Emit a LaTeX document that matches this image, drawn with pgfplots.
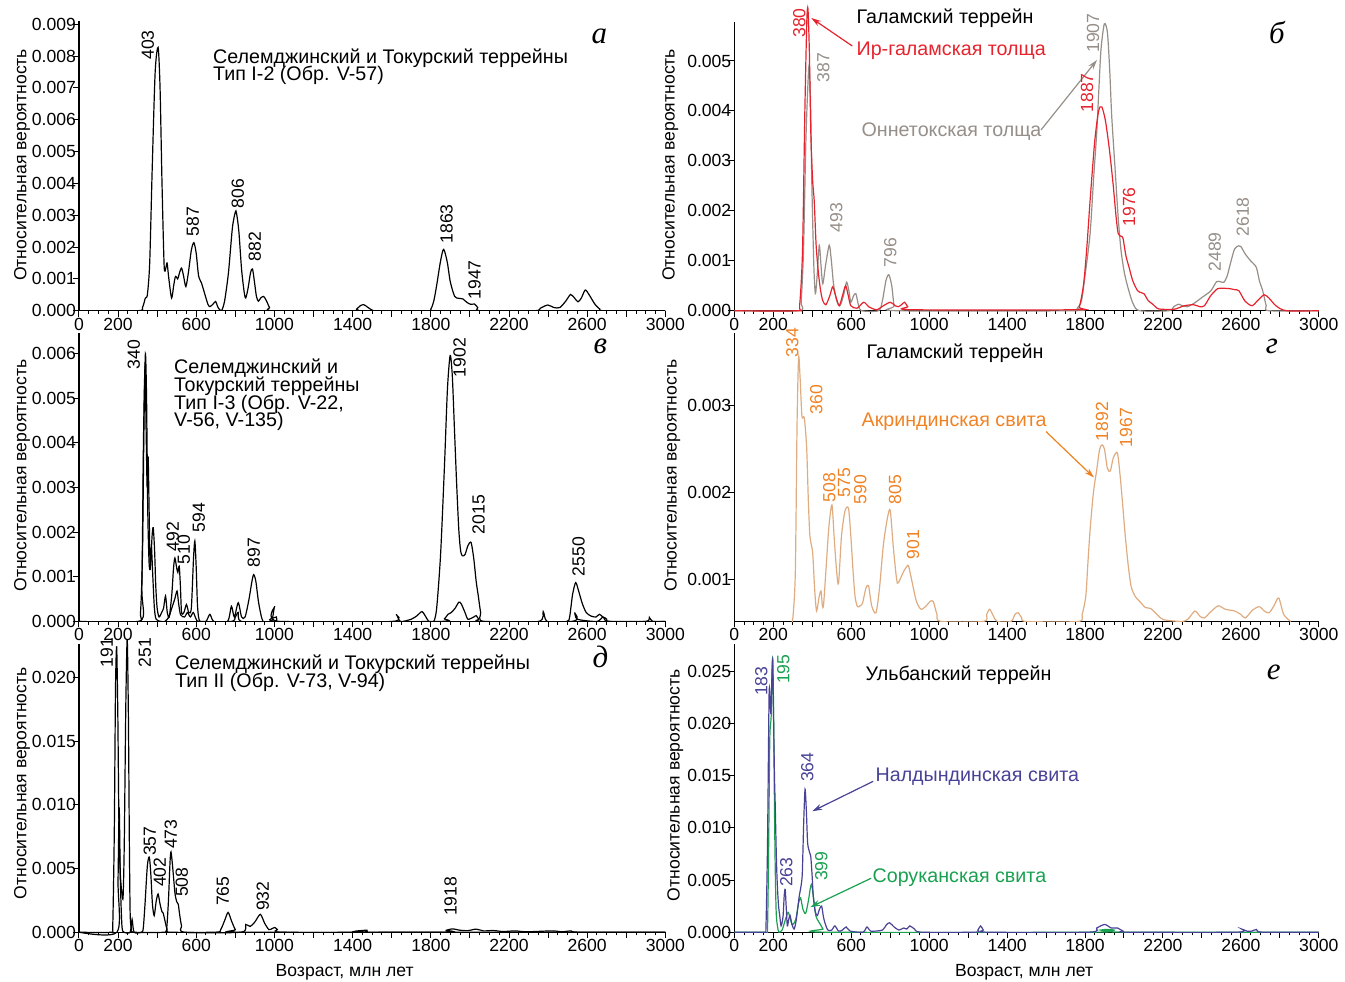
\documentclass[border=0pt]{standalone}
\usepackage{fontspec}
\setmainfont{Liberation Sans}
\newfontfamily\letfont{Liberation Serif}
\usepackage{pgfplots}
\pgfplotsset{compat=1.18}
\usetikzlibrary{arrows.meta}

\definecolor{irred}{RGB}{230,35,45}
\definecolor{onngray}{RGB}{150,142,136}
\definecolor{akrtext}{RGB}{240,130,35}
\definecolor{akrline}{RGB}{222,172,128}
\definecolor{naldblue}{RGB}{72,66,150}
\definecolor{sorgreen}{RGB}{25,160,80}

\newcommand\tk{\fontsize{8.8}{10}\selectfont}
\newcommand\ttl{\fontsize{9.85}{11}\selectfont}
\newcommand\lt{\fontsize{15.5}{17}\selectfont\letfont\itshape}

\pgfplotsset{
  panel/.style={
    scale only axis, width=293.5pt, height=145pt, anchor=south west,
    xmin=0, xmax=3000, ymin=0,
    axis x line=bottom, axis y line=left,
    axis line style={-, line width=0.6pt},
    xtick={0,200,...,3000},
    xticklabels={0,200,,600,,1000,,1400,,1800,,2200,,2600,,3000},
    minor x tick num=3,
    tick align=outside,
    major tick length=3pt, minor tick length=1.6pt,
    tick style={black, line width=0.5pt},
    ticklabel style={font=\tk},
    xticklabel style={yshift=3pt},
    scaled y ticks=false,
    yticklabel style={xshift=5pt, /pgf/number format/fixed, /pgf/number format/fixed zerofill,
      /pgf/number format/precision=3, /pgf/number format/assume math mode=true},
    every axis plot/.append style={line width=0.6pt, smooth, tension=0.45, mark=none},
  },
}
\tikzset{
  pk/.style={rotate=90, anchor=west, inner sep=0pt, font=\tk},
  tt/.style={anchor=base west, inner sep=0pt, font=\ttl},
  arr/.style={-{Stealth[length=5pt,width=3pt]}, line width=0.6pt},
}

\begin{document}
\begin{tikzpicture}
\begin{scope}[x=0.5pt, y=-0.5pt]
\useasboundingbox (0,0) rectangle (1345,982);
\end{scope}

% a
\begin{axis}[panel, at={(39.5pt,-155.5pt)}, ymax=0.0091,
  ytick={0,0.001,0.002,0.003,0.004,0.005,0.006,0.007,0.008,0.009}]
\addplot[black] coordinates {(0,0) (300,0) (325,0.0001) (340,0.0004) (350,0.0005) (362,0.0015) (375,0.0045) (390,0.0075) (405,0.00827) (415,0.0070) (425,0.0040) (436,0.0014) (445,0.00135) (451,0.0015) (460,0.0010) (474,0.0004) (485,0.0008) (494,0.00108) (505,0.0010) (515,0.0012) (525,0.00134) (535,0.0011) (547,0.00076) (560,0.0012) (575,0.0019) (588,0.00214) (600,0.0018) (612,0.0011) (627,0.00087) (645,0.0005) (660,0.0002) (670,0.00013) (685,0.0002) (699,0.00029) (712,0.0001) (729,0) (745,0.0003) (765,0.0012) (785,0.0026) (800,0.0031) (806,0.00307) (818,0.0025) (832,0.0013) (845,0.0006) (853,0.0004) (865,0.0007) (878,0.0012) (888,0.00131) (898,0.0009) (908,0.00045) (918,0.0003) (930,0.0004) (945,0.00045) (960,0.0003) (975,0.0001) (990,0) (1400,0) (1420,0.00005) (1440,0.00016) (1457,0.00019) (1475,0.00012) (1500,0.00002) (1530,0) (1780,0) (1800,0.00005) (1815,0.0003) (1830,0.0008) (1848,0.0015) (1862,0.0019) (1870,0.00188) (1885,0.0015) (1900,0.0009) (1922,0.00045) (1943,0.00039) (1964,0.00037) (1985,0.00026) (2005,0.0002) (2024,0.00021) (2040,0.0001) (2055,0) (2330,0) (2360,0.00008) (2398,0.00018) (2430,0.0001) (2460,0.0001) (2490,0.0003) (2515,0.00051) (2535,0.0004) (2553,0.00028) (2570,0.0004) (2590,0.00065) (2610,0.0005) (2640,0.0002) (2665,0.00005) (2690,0) (3000,0)};
\end{axis}

% b
\begin{axis}[panel, at={(367.5pt,-155.5pt)}, width=292.5pt, height=144.5pt, ymax=0.00578, clip=false,
  ytick={0,0.001,0.002,0.003,0.004,0.005}]
\addplot[onngray] coordinates {(0,0) (330,0) (343,0.0002) (355,0.0012) (368,0.0035) (383,0.0049) (392,0.0040) (398,0.0025) (408,0.0009) (416,0.00034) (425,0.0007) (436,0.00131) (445,0.0009) (454,0.00054) (468,0.0009) (487,0.00131) (498,0.001) (509,0.00054) (525,0.0002) (542,0.0001) (560,0.0003) (576,0.00057) (588,0.0004) (598,0.00017) (612,0.0003) (624,0.00034) (638,0.0001) (653,0) (740,0) (760,0.0002) (778,0.0006) (793,0.00072) (808,0.0005) (820,0.0001) (835,0) (1740,0) (1760,0.00005) (1782,0.0002) (1800,0.0007) (1826,0.00154) (1845,0.0027) (1860,0.00356) (1872,0.0045) (1882,0.00523) (1899,0.00574) (1915,0.00557) (1927,0.0048) (1937,0.0039) (1955,0.0028) (1970,0.00188) (1985,0.0012) (2003,0.00074) (2025,0.0004) (2048,0.00013) (2081,0) (2230,0) (2255,0.00008) (2280,0.00013) (2300,0.0001) (2325,0.00008) (2360,0.00015) (2402,0.00027) (2446,0.0004) (2475,0.00058) (2495,0.00058) (2513,0.00057) (2530,0.0007) (2546,0.00094) (2568,0.00124) (2590,0.0013) (2601,0.00128) (2620,0.00115) (2635,0.00107) (2650,0.001) (2679,0.00087) (2695,0.0006) (2712,0.0004) (2730,0.0001) (2745,0) (3000,0)};
\addplot[irred] coordinates {(0,0) (320,0) (335,0.0001) (350,0.0012) (362,0.0040) (372,0.0058) (378,0.00604) (385,0.0052) (393,0.0035) (402,0.0026) (410,0.0022) (420,0.0013) (432,0.00074) (443,0.0004) (454,0.0002) (470,0.00012) (490,0.0003) (505,0.00048) (520,0.0003) (538,0.0001) (555,0.0003) (571,0.0005) (585,0.0003) (598,0.0001) (630,0.00005) (664,0.00017) (690,0.00008) (730,0.00002) (765,0.0001) (801,0.00017) (825,0.0001) (841,0.00008) (858,0.00012) (874,0.00017) (890,0.00008) (910,0.00002) (1750,0.00002) (1771,0.00008) (1793,0.00054) (1810,0.0013) (1826,0.0022) (1850,0.0034) (1870,0.0040) (1886,0.00408) (1905,0.0038) (1926,0.0032) (1945,0.0025) (1959,0.0019) (1970,0.00155) (1985,0.00149) (1995,0.00145) (2010,0.0011) (2026,0.00087) (2045,0.0006) (2070,0.0004) (2090,0.00036) (2103,0.00034) (2125,0.0002) (2148,0.00013) (2170,0.00005) (2192,0.00003) (2258,0.00003) (2310,0.0001) (2358,0.00012) (2390,0.00008) (2413,0.0001) (2445,0.0003) (2480,0.00044) (2510,0.00045) (2546,0.00044) (2570,0.00042) (2590,0.0004) (2620,0.0002) (2657,0.0001) (2690,0.00022) (2720,0.00032) (2745,0.00025) (2780,0.0001) (2834,0) (3000,0)};
\end{axis}

% v
\begin{axis}[panel, at={(39.5pt,-311pt)}, height=144.5pt, ymax=0.00647,
  ytick={0,0.001,0.002,0.003,0.004,0.005,0.006}]
\addplot[black] coordinates {(0,0) (300,0) (315,0.0002) (325,0.0015) (333,0.0045) (340,0.0060) (346,0.0050) (352,0.0025) (359,0.0013) (366,0.0012) (374,0.0019) (380,0.0021) (387,0.0016) (393,0.0008) (400,0.0003) (410,0.0001) (423,0.0002) (433,0.0003) (443,0.00057) (452,0.0002) (462,0.0001) (475,0.0006) (484,0.0012) (491,0.00142) (500,0.0012) (506,0.0011) (513,0.00124) (519,0.0008) (525,0.0002) (537,0.0002) (550,0.00038) (562,0.0002) (575,0.0003) (586,0.0014) (593,0.0018) (600,0.0012) (606,0.0004) (612,0.0001) (620,0) (650,0) (670,0.00016) (690,0) (760,0) (780,0.00034) (795,0.0001) (815,0.00042) (832,0.0001) (850,0.0001) (870,0.0005) (885,0.0009) (894,0.00105) (905,0.0009) (920,0.0004) (942,0) (985,0) (1002,0.00034) (1020,0) (1600,0) (1622,0.00016) (1645,0) (1700,0.00005) (1730,0.00013) (1755,0.00022) (1775,0.0001) (1790,0) (1815,0) (1830,0.0003) (1850,0.0015) (1870,0.0035) (1885,0.0052) (1899,0.00596) (1910,0.0055) (1921,0.0043) (1932,0.0031) (1943,0.00207) (1952,0.0016) (1961,0.00147) (1975,0.0015) (1990,0.0017) (2006,0.00177) (2020,0.0014) (2032,0.0009) (2043,0.00057) (2055,0.0002) (2070,0) (2350,0) (2375,0.00022) (2395,0) (2495,0) (2510,0.0001) (2525,0.0006) (2541,0.00087) (2555,0.0007) (2575,0.0004) (2595,0.0002) (2620,0.00012) (2645,0.0001) (2663,0.00016) (2685,0.00008) (2710,0) (2900,0) (2918,0.00009) (2935,0) (3000,0)};
\addplot[black] coordinates {(0,0) (310,0) (322,0.0008) (330,0.0040) (338,0.0057) (344,0.0042) (349,0.0030) (354,0.0037) (359,0.0025) (364,0.0013) (371,0.00165) (378,0.0010) (386,0.0003) (395,0.00005) (420,0) (440,0) (460,0.0001) (475,0.0003) (490,0.0005) (502,0.00068) (510,0.0004) (520,0.00015) (540,0.0001) (555,0.0002) (570,0.0001) (585,0.0002) (600,0.00005) (620,0) (780,0) (800,0.0001) (815,0.0002) (830,0) (1000,0) (1010,0.0001) (1025,0) (1840,0) (1870,0.00006) (1888,0.00016) (1905,0.0002) (1925,0.0003) (1943,0.00043) (1955,0.0004) (1975,0.0002) (1990,0.00005) (2020,0.0001) (2032,0.00013) (2045,0.00005) (2060,0) (2520,0) (2535,0.0002) (2550,0.00005) (2650,0) (2680,0.0001) (2700,0.00005) (2720,0) (3000,0)};
\end{axis}

% g
\begin{axis}[panel, at={(367.5pt,-311pt)}, width=292.5pt, height=144.5pt, ymin=0.00052, ymax=0.00384,
  ytick={0.001,0.002,0.003}]
\addplot[akrline] coordinates {(290,0.0005) (300,0.00055) (313,0.00108) (322,0.0028) (330,0.00356) (338,0.0033) (347,0.00288) (359,0.00286) (371,0.00253) (380,0.0019) (388,0.0015) (402,0.00131) (412,0.0009) (422,0.00064) (435,0.0008) (445,0.00087) (452,0.0007) (458,0.00071) (470,0.0011) (485,0.0016) (501,0.00186) (512,0.0015) (525,0.0011) (535,0.00096) (550,0.0015) (568,0.00179) (586,0.00182) (598,0.0015) (610,0.00108) (620,0.0008) (632,0.00069) (645,0.0007) (658,0.00073) (675,0.0009) (689,0.00093) (705,0.0007) (727,0.00062) (745,0.0009) (765,0.0014) (785,0.0017) (800,0.0018) (815,0.0014) (828,0.0011) (837,0.00096) (850,0.0010) (870,0.0011) (885,0.00115) (894,0.00116) (910,0.001) (932,0.00077) (950,0.00068) (963,0.00066) (985,0.0007) (1005,0.00075) (1021,0.00075) (1040,0.0006) (1060,0.00052) (1280,0.00052) (1295,0.0006) (1311,0.00066) (1330,0.00058) (1350,0.00052) (1420,0.00052) (1440,0.0006) (1457,0.00062) (1475,0.00056) (1500,0.00052) (1765,0.00052) (1785,0.0006) (1804,0.00081) (1815,0.0012) (1826,0.00157) (1843,0.0020) (1860,0.00226) (1875,0.0025) (1888,0.00255) (1900,0.0025) (1915,0.00228) (1930,0.00225) (1945,0.0024) (1966,0.00246) (1980,0.0022) (1992,0.0019) (2004,0.00157) (2020,0.0012) (2037,0.00092) (2060,0.0008) (2081,0.00075) (2110,0.00068) (2136,0.00067) (2170,0.0006) (2203,0.00054) (2300,0.00052) (2330,0.00055) (2364,0.00064) (2390,0.00058) (2413,0.00056) (2445,0.00063) (2484,0.0007) (2520,0.00066) (2568,0.00064) (2600,0.0006) (2623,0.00056) (2660,0.00065) (2694,0.00069) (2720,0.00064) (2745,0.00062) (2770,0.0007) (2794,0.00079) (2820,0.0006) (2856,0.00052)};
\end{axis}

% d
\begin{axis}[panel, at={(39.5pt,-466.5pt)}, height=144pt, ymax=0.02259, clip=false,
  ytick={0,0.005,0.010,0.015,0.020}]
\addplot[black] coordinates {(0,0) (165,0) (173,0.0005) (181,0.008) (187,0.019) (193,0.0224) (199,0.017) (205,0.008) (212,0.0045) (220,0.003) (226,0.0028) (232,0.007) (240,0.018) (247,0.0230) (253,0.017) (258,0.007) (262,0.0015) (268,0.0003) (280,0) (440,0) (449,0.0003) (458,0.0025) (466,0.0055) (471,0.0063) (479,0.0052) (491,0.0031) (500,0.0024) (508,0.0022) (516,0.0013) (525,0.0005) (540,0) (830,0) (853,0.0006) (876,0.00045) (900,0.0008) (928,0.0014) (950,0.0007) (972,0.0002) (990,0.0003) (1002,0.00037) (1015,0.0002) (1030,0) (1440,0) (1473,0.00016) (1500,0) (3000,0)};
\addplot[black] coordinates {(0,0) (195,0) (200,0.004) (206,0.0098) (212,0.004) (220,0.0005) (230,0) (262,0) (272,0.001) (282,0) (320,0) (329,0.0003) (338,0.0022) (350,0.0052) (360,0.0059) (368,0.0045) (376,0.0022) (385,0.0013) (395,0.0024) (405,0.003) (415,0.0022) (425,0.0016) (431,0.0015) (440,0.0009) (451,0.0002) (460,0) (700,0) (725,0.0002) (745,0.0009) (763,0.00155) (780,0.0009) (800,0.0002) (820,0) (1850,0) (1880,0.00015) (1910,0.00026) (1950,0.00015) (1990,0.00012) (2032,0.00024) (2070,0.0001) (2120,0.00013) (2170,0.00005) (2231,0.0001) (2290,0.00003) (2420,0.0001) (2470,0.00003) (2519,0.0001) (2560,0) (3000,0)};
\end{axis}

% e
\begin{axis}[panel, at={(367.5pt,-466.5pt)}, width=292.5pt, height=144pt, ymax=0.02759,
  ytick={0,0.005,0.010,0.015,0.020,0.025}]
\addplot[sorgreen] coordinates {(0,0) (160,0) (170,0.0002) (176,0.008) (182,0.0185) (189,0.0207) (194,0.025) (198,0.0261) (202,0.020) (206,0.012) (210,0.006) (215,0.0018) (222,0.0005) (229,0) (245,0.0002) (262,0.0012) (276,0.0019) (287,0.0013) (298,0.0007) (315,0.0012) (330,0.0028) (340,0.0033) (352,0.0022) (366,0.0018) (380,0.003) (390,0.0042) (397,0.0046) (405,0.0035) (418,0.0016) (430,0.0011) (443,0.0007) (455,0.0003) (469,0) (1850,0) (1880,0.0002) (1910,0.00026) (1950,0.0002) (1990,0) (3000,0)};
\addplot[naldblue] coordinates {(0,0) (155,0) (162,0.0003) (170,0.008) (176,0.019) (179,0.0233) (183,0.0225) (187,0.021) (192,0.024) (196,0.026) (201,0.021) (206,0.015) (210,0.0121) (216,0.007) (221,0.0044) (227,0.0025) (233,0.0016) (240,0.0006) (250,0.0015) (256,0.0035) (261,0.0041) (266,0.0025) (272,0.0006) (279,0.0012) (286,0.0016) (295,0.0008) (307,0.0003) (318,0.0012) (332,0.0033) (343,0.0045) (349,0.0057) (356,0.0105) (363,0.0137) (370,0.0115) (376,0.0086) (384,0.0078) (392,0.0073) (399,0.0055) (405,0.0035) (415,0.002) (426,0.0016) (437,0.0022) (448,0.0025) (457,0.0015) (465,0.0009) (480,0.0002) (500,0.0002) (516,0.0006) (535,0.0001) (555,0.0002) (574,0.0005) (595,0.0001) (660,0) (681,0.0005) (700,0.0001) (760,0.0002) (780,0.0007) (797,0.0009) (820,0.0005) (845,0.0002) (869,0.0004) (885,0.0003) (901,0.0006) (925,0.0003) (960,0) (1235,0) (1250,0.0002) (1264,0.0006) (1278,0.0002) (1295,0) (1820,0) (1860,0.0004) (1901,0.00074) (1935,0.0004) (1967,0.0004) (1995,0.0001) (2020,0) (2580,0) (2604,0.0003) (2630,0.0001) (2655,0.0001) (2681,0.00026) (2710,0) (3000,0)};
\end{axis}

\begin{scope}[x=0.5pt, y=-0.5pt]
% y labels
\foreach \xx/\yy in {22/165, 22/476, 22/784, 671/165, 673/476, 676/786}
  \node[rotate=90, inner sep=0pt, font=\tk] at (\xx,\yy) {Относительная вероятность};
% x labels
\node[anchor=base, inner sep=0pt, font=\tk] at (345,977) {Возраст, млн лет};
\node[anchor=base, inner sep=0pt, font=\tk] at (1025,977) {Возраст, млн лет};
% panel letters
\node[anchor=base, inner sep=0pt, font=\lt] at (600,44) {а};
\node[anchor=base, inner sep=0pt, font=\lt] at (1278,44) {б};
\node[anchor=base, inner sep=0pt, font=\lt] at (601,354) {в};
\node[anchor=base, inner sep=0pt, font=\lt] at (1273,354) {г};
\node[anchor=base, inner sep=0pt, font=\lt] at (601,668) {д};
\node[anchor=base, inner sep=0pt, font=\lt] at (1275,680) {е};

% a
\node[tt] at (213,64) {Селемджинский и Токурский террейны};
\node[tt] at (213,81) {Тип I-2 (Обр. V-57)};
\node[pk] at (148,60) {403};
\node[pk] at (193,237) {587};
\node[pk] at (238,209) {806};
\node[pk] at (255,262) {882};
\node[pk] at (447,244) {1863};
\node[pk] at (475,300) {1947};

% b
\node[tt] at (857,24) {Галамский террейн};
\node[tt, text=irred] at (857,56) {Ир-галамская толща};
\node[tt, text=onngray] at (862,137) {Оннетокская толща};
\draw[arr, irred] (853,46) -- (812,18);
\draw[arr, onngray] (1042,130) -- (1098,60);
\node[pk, text=irred] at (800,38) {380};
\node[pk, text=onngray] at (824,83) {387};
\node[pk, text=onngray] at (837,233) {493};
\node[pk, text=onngray] at (891,268) {796};
\node[pk, text=onngray] at (1094,53) {1907};
\node[pk, text=irred] at (1088,113) {1887};
\node[pk, text=irred] at (1130,227) {1976};
\node[pk, text=onngray] at (1216,272) {2489};
\node[pk, text=onngray] at (1244,237) {2618};

% v
\node[tt] at (174,374) {Селемджинский и};
\node[tt] at (174,392) {Токурский террейны};
\node[tt] at (174,410) {Тип I-3 (Обр. V-22,};
\node[tt] at (174,427) {V-56, V-135)};
\node[pk] at (134,370) {340};
\node[pk] at (460,378) {1902};
\node[pk] at (479,535) {2015};
\node[pk] at (173,552) {492};
\node[pk] at (184,565) {510};
\node[pk] at (199,533) {594};
\node[pk] at (254,568) {897};
\node[pk] at (579,577) {2550};

% g
\node[tt] at (867,359) {Галамский террейн};
\node[tt, text=akrtext] at (862,427) {Акриндинская свита};
\draw[arr, akrtext] (1047,432) -- (1095,478);
\node[pk, text=akrtext] at (793,358) {334};
\node[pk, text=akrtext] at (817,415) {360};
\node[pk, text=akrtext] at (830,503) {508};
\node[pk, text=akrtext] at (845,498) {575};
\node[pk, text=akrtext] at (861,505) {590};
\node[pk, text=akrtext] at (896,505) {805};
\node[pk, text=akrtext] at (914,560) {901};
\node[pk, text=akrtext] at (1103,442) {1892};
\node[pk, text=akrtext] at (1127,448) {1967};

% d
\node[tt] at (175,670) {Селемджинский и Токурский террейны};
\node[tt] at (175,688) {Тип II (Обр. V-73, V-94)};
\node[pk] at (107,668) {191};
\node[pk] at (145,668) {251};
\node[pk] at (150,857) {357};
\node[pk] at (160,888) {402};
\node[pk] at (171,850) {473};
\node[pk] at (182,898) {508};
\node[pk] at (223,907) {765};
\node[pk] at (263,912) {932};
\node[pk] at (451,917) {1918};

% e
\node[tt] at (866,681) {Ульбанский террейн};
\node[tt, text=naldblue] at (876,782) {Налдындинская свита};
\node[tt, text=sorgreen] at (873,883) {Соруканская свита};
\draw[arr, naldblue] (874,782) -- (813,812);
\draw[arr, sorgreen] (872,879) -- (811,908);
\node[pk, text=naldblue] at (762,697) {183};
\node[pk, text=sorgreen] at (784,685) {195};
\node[pk, text=naldblue] at (808,783) {364};
\node[pk, text=naldblue] at (787,888) {263};
\node[pk, text=sorgreen] at (822,882) {399};
\end{scope}
\end{tikzpicture}
\end{document}
